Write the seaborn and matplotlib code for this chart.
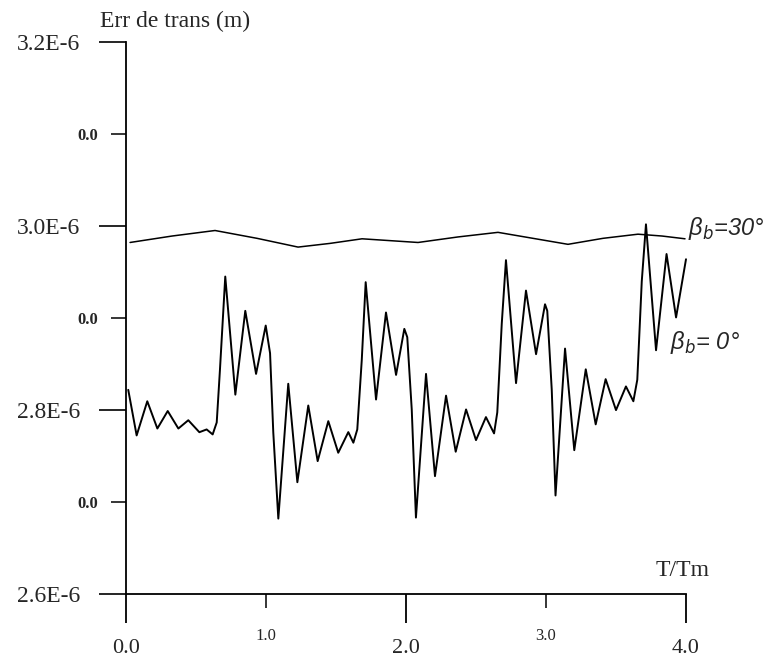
import matplotlib
matplotlib.use("Agg")
import matplotlib.pyplot as plt
import seaborn as sns
import pandas as pd
from matplotlib.ticker import FixedLocator

# Transmission error (units of 1E-6 m) versus T/Tm
t_30 = [0.029, 0.329, 0.636, 0.936, 1.229, 1.457, 1.686, 1.886, 2.086,
        2.371, 2.657, 2.907, 3.157, 3.407, 3.657, 3.829, 3.993]
err_30 = [2.982, 2.989, 2.995, 2.9865, 2.977, 2.981, 2.986, 2.984, 2.982,
          2.988, 2.993, 2.9865, 2.980, 2.9865, 2.991, 2.989, 2.986]

t_0 = [0.016, 0.076, 0.152, 0.224, 0.298, 0.374, 0.445, 0.524, 0.576, 0.619,
       0.648, 0.671, 0.709, 0.781, 0.852, 0.929, 0.998, 1.029, 1.052, 1.088,
       1.159, 1.224, 1.302, 1.369, 1.445, 1.516, 1.588, 1.624, 1.652, 1.684,
       1.712, 1.786, 1.857, 1.929, 1.988, 2.009, 2.041, 2.071, 2.143, 2.207,
       2.286, 2.355, 2.429, 2.500, 2.571, 2.629, 2.652, 2.684, 2.714, 2.786,
       2.857, 2.929, 2.993, 3.009, 3.041, 3.068, 3.136, 3.202, 3.284, 3.355,
       3.426, 3.500, 3.571, 3.624, 3.652, 3.684, 3.714, 3.786, 3.861, 3.929,
       4.000]
err_0 = [2.822, 2.7725, 2.8096, 2.780, 2.799, 2.780, 2.789, 2.776, 2.779, 2.7736,
         2.7866, 2.8436, 2.945, 2.8168, 2.9078, 2.8393, 2.8918, 2.8618, 2.7758, 2.6822,
         2.8286, 2.7217, 2.805, 2.7446, 2.788, 2.7537, 2.7761, 2.7646, 2.779, 2.8543,
         2.9389, 2.8115, 2.906, 2.8382, 2.8882, 2.8792, 2.8007, 2.6833, 2.8393, 2.7283,
         2.8157, 2.7548, 2.8007, 2.7674, 2.7924, 2.7747, 2.7975, 2.8939, 2.9628, 2.8293,
         2.9298, 2.8607, 2.9149, 2.9078, 2.8222, 2.7073, 2.8668, 2.7565, 2.8443, 2.7845,
         2.8336, 2.800, 2.8257, 2.8096, 2.8329, 2.9397, 3.0017, 2.865, 2.9695, 2.9006,
         2.9638]

y_major = [2.6, 2.8, 3.0, 3.2]
y_major_labels = ["2.6E-6", "2.8E-6", "3.0E-6", "3.2E-6"]
y_minor = [2.7, 2.9, 3.1]
y_minor_labels = ["0.0", "0.0", "0.0"]
x_major = [0, 2, 4]
x_major_labels = ["0.0", "2.0", "4.0"]
x_minor = [1, 3]
x_minor_labels = ["1.0", "3.0"]

sns.set_style("white")
plt.rcParams["font.family"] = ["Liberation Serif", "DejaVu Serif"]

W, H = 763, 666
fig = plt.figure(figsize=(W / 100, H / 100), dpi=100)
ax = fig.add_axes([126 / W, 1 - 594.3 / H, 560 / W, (594.3 - 41.7) / H])

df30 = pd.DataFrame({"t": t_30, "err": err_30})
df0 = pd.DataFrame({"t": t_0, "err": err_0})
sns.lineplot(data=df30, x="t", y="err", ax=ax, color="black", lw=1.1,
             legend=False, sort=False, clip_on=False,
             solid_joinstyle="round")
sns.lineplot(data=df0, x="t", y="err", ax=ax, color="black", lw=1.4,
             legend=False, sort=False, clip_on=False,
             solid_joinstyle="round")

ax.set_xlim(0, 4)
ax.set_ylim(2.6, 3.2)
ax.set_xlabel("")
ax.set_ylabel("")
for side in ("top", "right"):
    ax.spines[side].set_visible(False)
for side in ("left", "bottom"):
    ax.spines[side].set_color("black")
    ax.spines[side].set_linewidth(1.3)

px = 0.72  # points per pixel at 100 dpi

ax.xaxis.set_major_locator(FixedLocator(x_major))
ax.xaxis.set_minor_locator(FixedLocator(x_minor))
ax.set_xticklabels(x_major_labels)
ax.set_xticklabels(x_minor_labels, minor=True)
ax.tick_params(axis="x", which="both", bottom=True)
ax.tick_params(axis="x", which="major", direction="out", length=29 * px,
               width=1.3, color="black", pad=16 * px, labelsize=16)
ax.tick_params(axis="x", which="minor", direction="out", length=14 * px,
               width=1.1, color="black", pad=20 * px, labelsize=12)

ax.yaxis.set_major_locator(FixedLocator(y_major))
ax.yaxis.set_minor_locator(FixedLocator(y_minor))
ax.set_yticklabels(y_major_labels)
ax.set_yticklabels(y_minor_labels, minor=True)
ax.tick_params(axis="y", which="both", left=True)
ax.tick_params(axis="y", which="major", direction="out", length=27 * px,
               width=1.2, color="black", pad=19 * px, labelsize=17)
ax.tick_params(axis="y", which="minor", direction="out", length=15 * px,
               width=1.1, color="black", pad=13 * px, labelsize=12)
for lab in ax.get_yticklabels(minor=True):
    lab.set_fontweight("bold")

fig.text(100 / W, 1 - 21 / H, "Err de trans (m)", fontsize=17,
         ha="left", va="center")
fig.text(683 / W, 1 - 571 / H, "T/Tm", fontsize=17, ha="center", va="center")

hand = dict(family=["Liberation Sans", "DejaVu Sans"], style="italic",
            fontsize=17, ha="center", va="center")
fig.text(726 / W, 1 - 228 / H, "\u03b2$_b$=30\u00b0", **hand)
fig.text(705 / W, 1 - 343 / H, "\u03b2$_b$= 0\u00b0", **hand)

fig.savefig("out.png", dpi=100, facecolor="white")
